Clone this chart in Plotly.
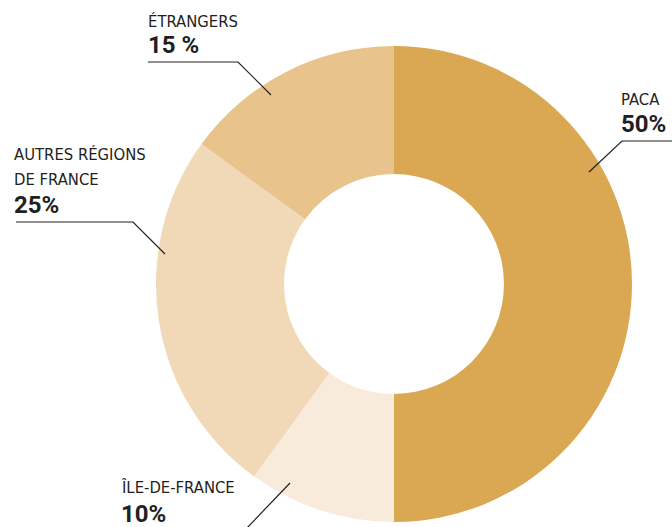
import plotly.graph_objects as go

W, H = 672, 527

labels = ["PACA", "ÎLE-DE-FRANCE", "AUTRES RÉGIONS DE FRANCE", "ÉTRANGERS"]
values = [50, 10, 25, 15]
colors = ["#DAA853", "#F8EBDC", "#F1D9B8", "#E8C38B"]
pct_text = ["50%", "10%", "25%", "15 %"]
name_lines = [["PACA"], ["ÎLE-DE-FRANCE"], ["AUTRES RÉGIONS", "DE FRANCE"], ["ÉTRANGERS"]]

def px(x):
    return x / W

def py(y):
    return 1 - y / H

fig = go.Figure(go.Pie(
    labels=labels,
    values=values,
    sort=False,
    direction="clockwise",
    rotation=0,
    hole=0.462,
    marker=dict(colors=colors, line=dict(width=0)),
    textinfo="none",
    hoverinfo="label+percent",
    showlegend=False,
    domain=dict(x=[px(156), px(632)], y=[py(522), py(46)]),
))

label_font = dict(family="Liberation Sans Narrow, Arial Narrow, DejaVu Sans Condensed, sans-serif",
                  size=16.5, color="#231f20")
num_font = dict(family="Roboto, sans-serif", size=24, color="#231f20")

# label anchor layout: (x_left, [name line centers], number center)
label_layout = [
    (621, [100], 124.5),
    (121, [487.5], 514),
    (14, [154.5, 179.5], 205),
    (148, [21.5], 45.5),
]
# leader lines: list of points (pixels)
leaders = [
    [(672, 141), (622, 141), (589, 172)],
    [(290, 483), (245, 530)],
    [(16, 222), (133, 222), (165, 254)],
    [(148, 62), (238, 62), (271, 95)],
]

annotations = []
for i in range(len(labels)):
    x0, centers, ncenter = label_layout[i]
    for line, cy in zip(name_lines[i], centers):
        annotations.append(dict(
            x=px(x0 - 1), y=py(cy), xref="paper", yref="paper",
            xanchor="left", yanchor="middle", showarrow=False,
            text=line, font=label_font, borderpad=0,
        ))
    annotations.append(dict(
        x=px(x0 - 1), y=py(ncenter), xref="paper", yref="paper",
        xanchor="left", yanchor="middle", showarrow=False,
        text="<b>" + pct_text[i] + "</b>", font=num_font, borderpad=0,
    ))

shapes = []
for pts in leaders:
    path = "M " + " L ".join(f"{px(x)},{py(y)}" for x, y in pts)
    shapes.append(dict(type="path", xref="paper", yref="paper", path=path,
                       line=dict(color="#231f20", width=1.2)))

fig.update_layout(
    width=W, height=H,
    margin=dict(l=0, r=0, t=0, b=0),
    paper_bgcolor="white",
    plot_bgcolor="white",
    annotations=annotations,
    shapes=shapes,
)

fig.write_html(
    "out.html",
    config={"displayModeBar": False},
    post_script="document.body.style.margin='0';document.body.style.overflow='hidden';",
)
